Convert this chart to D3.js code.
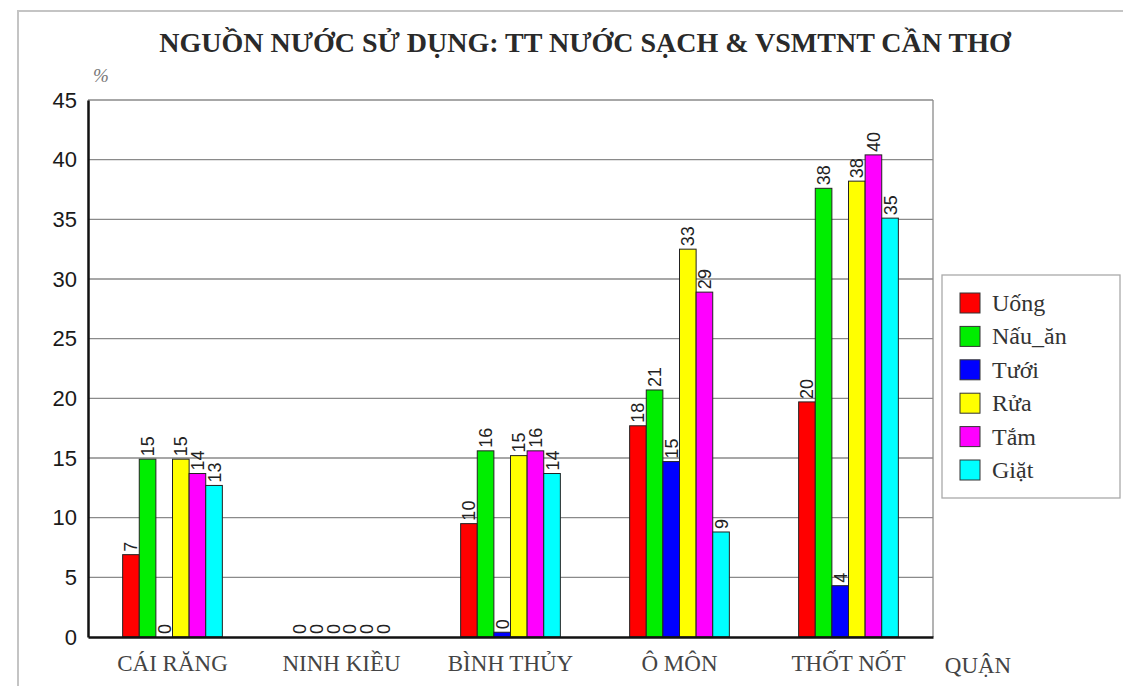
<!DOCTYPE html>
<html>
<head>
<meta charset="utf-8">
<script src="https://cdn.jsdelivr.net/npm/d3@7"></script>
<style>
  body { margin: 0; background: #fff; }
  svg { display: block; }
</style>
</head>
<body>
<svg id="chart" width="1123" height="686"></svg>
<script>
const categories = ["CÁI RĂNG", "NINH KIỀU", "BÌNH THỦY", "Ô MÔN", "THỐT NỐT"];
const seriesNames = ["Uống", "Nấu_ăn", "Tưới", "Rửa", "Tắm", "Giặt"];
const seriesColors = ["#ff0000", "#00ee00", "#0000ff", "#ffff00", "#ff00ff", "#00ffff"];
const uong   = [6.9, 0, 9.5, 17.7, 19.7];
const nauAn  = [14.9, 0, 15.6, 20.7, 37.6];
const tuoi   = [0, 0, 0.4, 14.7, 4.3];
const rua    = [14.9, 0, 15.2, 32.5, 38.2];
const tam    = [13.7, 0, 15.6, 28.9, 40.4];
const giat   = [12.7, 0, 13.7, 8.8, 35.1];
const yTicks = [0, 5, 10, 15, 20, 25, 30, 35, 40, 45];
const seriesValues = [uong, nauAn, tuoi, rua, tam, giat];

const svg = d3.select("#chart");
const m = { left: 88, right: 933, top: 100, bottom: 637 };
const serif = "'Liberation Serif', 'Times New Roman', serif";
const sans = "'Liberation Sans', Arial, sans-serif";

// outer frame
svg.append("path")
  .attr("d", `M18,700 L18,11 L1130,11`)
  .attr("fill", "none").attr("stroke", "#c4c4c4").attr("stroke-width", 2);

// title
svg.append("text")
  .attr("x", 585).attr("y", 52)
  .attr("text-anchor", "middle")
  .attr("font-family", serif)
  .attr("font-weight", "bold")
  .attr("font-size", 28)
  .attr("fill", "#2a2a2a")
  .text("NGUỒN NƯỚC SỬ DỤNG: TT NƯỚC SẠCH & VSMTNT CẦN THƠ");

const x0 = d3.scaleBand().domain(categories).range([m.left, m.right]).paddingInner(0.41).paddingOuter(0.205);
const x1 = d3.scaleBand().domain(seriesNames).range([0, x0.bandwidth()]);
const y = d3.scaleLinear().domain([0, 45]).range([m.bottom, m.top]);

// gridlines
svg.append("g").selectAll("line").data(yTicks.filter(d => d > 0)).join("line")
  .attr("x1", m.left).attr("x2", m.right)
  .attr("y1", d => y(d)).attr("y2", d => y(d))
  .attr("stroke", "#8a8a8a").attr("stroke-width", 1.3);
// right border of plot
svg.append("line").attr("x1", m.right).attr("x2", m.right).attr("y1", m.top).attr("y2", m.bottom)
  .attr("stroke", "#8a8a8a").attr("stroke-width", 1.3);

// y axis
const yAxis = d3.axisLeft(y).tickValues(yTicks).tickSize(0).tickPadding(11);
const gy = svg.append("g").attr("transform", `translate(${m.left},0)`).call(yAxis);
gy.select(".domain").attr("stroke", "#111").attr("stroke-width", 2.5);
gy.selectAll("text").attr("font-family", sans)
  .attr("font-size", 22).attr("fill", "#1a1a1a");

svg.append("text").attr("x", 101).attr("y", 82)
  .attr("text-anchor", "middle")
  .attr("font-family", serif).attr("font-style", "italic")
  .attr("font-size", 19).attr("fill", "#777").text("%");

// bars
const groups = svg.append("g").selectAll("g").data(categories).join("g")
  .attr("transform", d => `translate(${x0(d)},0)`);
groups.each(function(cat, ci) {
  const g = d3.select(this);
  const rows = seriesNames.map((s, si) => ({ s, si, v: seriesValues[si][ci] }));
  g.selectAll("rect").data(rows.filter(r => r.v > 0)).join("rect")
    .attr("x", r => x1(r.s)).attr("width", x1.bandwidth())
    .attr("y", r => y(r.v)).attr("height", r => y(0) - y(r.v))
    .attr("fill", r => seriesColors[r.si])
    .attr("stroke", "#222").attr("stroke-width", 1);
  g.selectAll("text").data(rows).join("text")
    .attr("transform", r => `translate(${x1(r.s) + x1.bandwidth() / 2 + 6.5},${y(r.v) - 3}) rotate(-90)`)
    .attr("font-family", sans)
    .attr("font-size", 18).attr("fill", "#222")
    .text(r => Math.round(r.v));
});

// x axis
const xAxis = d3.axisBottom(x0).tickSize(0).tickPadding(18);
const gx = svg.append("g").attr("transform", `translate(0,${m.bottom})`).call(xAxis);
gx.select(".domain").attr("stroke", "#111").attr("stroke-width", 2.5);
gx.selectAll("text").attr("font-family", serif)
  .attr("font-size", 23).attr("fill", "#444");

svg.append("text").attr("x", 978).attr("y", 673).attr("text-anchor", "middle")
  .attr("font-family", serif)
  .attr("font-size", 23).attr("fill", "#444").text("QUẬN");

// legend
const lg = svg.append("g");
lg.append("rect").attr("x", 942).attr("y", 275).attr("width", 178).attr("height", 223)
  .attr("fill", "#fff").attr("stroke", "#aaa").attr("stroke-width", 1.3);
const items = lg.selectAll("g.item").data(seriesNames).join("g")
  .attr("transform", (d, i) => `translate(960,${303 + i * 33.4})`);
items.append("rect").attr("x", 0).attr("y", -10).attr("width", 20).attr("height", 20)
  .attr("fill", (d, i) => seriesColors[i]).attr("stroke", "#333").attr("stroke-width", 1);
items.append("text").attr("x", 32).attr("y", 8)
  .attr("font-family", serif)
  .attr("font-size", 24).attr("fill", "#333").text(d => d);
</script>
</body>
</html>
